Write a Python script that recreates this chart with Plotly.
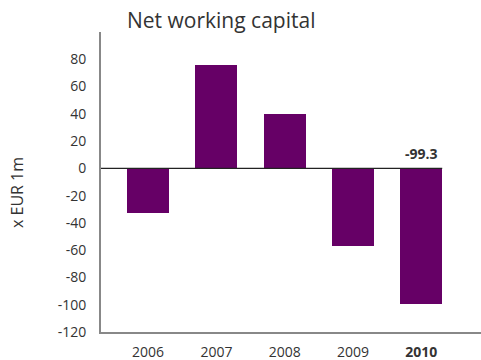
import plotly.graph_objects as go

years = ["2006", "2007", "2008", "2009", "2010"]
year_labels = ["2006", "2007", "2008", "2009", "<b>2010</b>"]
values = [-33, 76, 40, -57, -99.3]
y_ticks = [80, 60, 40, 20, 0, -20, -40, -60, -80, -100, -120]

purple = "#660066"
text_col = "#333333"
font_family = "Open Sans, Segoe UI, sans-serif"

# figure geometry in pixels
W, H = 481, 360
l, r, t, b = 101, 0, 32, 28
pw, ph = W - l - r, H - t - b


def px_x(x):
    return (x - l) / pw


def px_y(y):
    return (H - b - y) / ph


fig = go.Figure()
fig.add_trace(go.Bar(
    x=list(range(len(years))),
    y=values,
    marker=dict(color=purple, line=dict(width=0)),
    width=0.615,
    hoverinfo="skip",
))

# zero reference line across the bars
fig.add_shape(type="line", xref="x", yref="y",
              x0=-0.69, x1=4.307, y0=0, y1=0,
              line=dict(color="#222222", width=1.2))

# value label on the latest year, sitting above the zero line
fig.add_annotation(x=len(years) - 1, y=0, xref="x", yref="y",
                   text="<b>%.1f</b>" % values[-1],
                   showarrow=False, yanchor="bottom", yshift=3,
                   font=dict(family=font_family, size=14, color=text_col))

# chart title
fig.add_annotation(x=px_x(125), y=px_y(20), xref="paper", yref="paper",
                   text="Net working capital",
                   showarrow=False, xanchor="left", yanchor="middle",
                   font=dict(family=font_family, size=21, color=text_col))

# y-axis title
fig.add_annotation(text="x EUR 1m", textangle=-90, showarrow=False,
                   xref="paper", yref="paper", x=px_x(17), y=px_y(193),
                   xanchor="center", yanchor="middle",
                   font=dict(family=font_family, size=16, color=text_col))

fig.update_layout(
    width=W, height=H,
    margin=dict(l=l, r=r, t=t, b=b),
    paper_bgcolor="white", plot_bgcolor="white",
    showlegend=False,
    font=dict(family=font_family, size=14, color=text_col),
    bargap=0,
)

fig.update_xaxes(
    range=[-0.69, 4.875],
    tickvals=list(range(len(years))), ticktext=year_labels,
    showgrid=False, zeroline=False,
    showline=True, linecolor="#888888", linewidth=2,
    ticks="", ticklabelstandoff=6,
)
fig.update_yaxes(
    range=[-120, 100],
    tickvals=y_ticks, ticktext=[str(v) for v in y_ticks],
    showgrid=False, zeroline=False,
    showline=True, linecolor="#888888", linewidth=2,
    ticks="", ticklabelstandoff=10,
)

fig.write_html("out.html")
